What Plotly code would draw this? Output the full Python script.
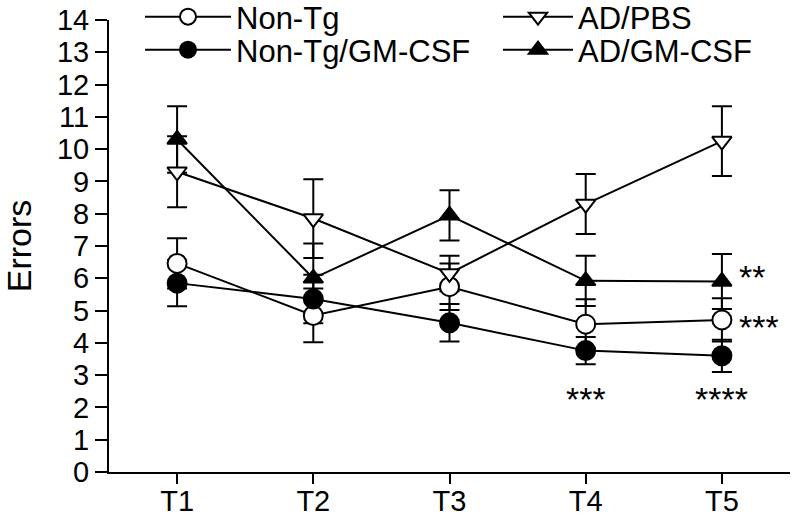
import plotly.graph_objects as go

categories = ["T1", "T2", "T3", "T4", "T5"]
x_pos = [0, 1, 2, 3, 4]

non_tg = [6.46, 4.85, 5.74, 4.58, 4.71]
non_tg_sem = [0.78, 0.83, 0.72, 0.77, 0.67]
non_tg_gm = [5.85, 5.36, 4.62, 3.76, 3.60]
non_tg_gm_sem = [0.72, 0.75, 0.58, 0.42, 0.50]
ad_pbs = [9.30, 7.85, 6.15, 8.30, 10.25]
ad_pbs_sem = [1.10, 1.22, 0.55, 0.93, 1.08]
ad_gm = [10.30, 6.00, 7.95, 5.92, 5.90]
ad_gm_sem = [1.03, 1.08, 0.78, 0.78, 0.85]

star_labels = ["**", "***", "***", "****"]
star_x = [4.11, 4.11, 3, 4]
star_y = [6.16, 4.61, 2.38, 2.38]
star_anchor = ["left", "left", "center", "center"]

FONT = "Liberation Sans, Arial, sans-serif"

series = [
    ("Non-Tg", non_tg, non_tg_sem, "circle", "white", "legend"),
    ("Non-Tg/GM-CSF", non_tg_gm, non_tg_gm_sem, "circle", "black", "legend2"),
    ("AD/PBS", ad_pbs, ad_pbs_sem, "triangle-down", "white", "legend3"),
    ("AD/GM-CSF", ad_gm, ad_gm_sem, "triangle-up", "black", "legend4"),
]

fig = go.Figure()

# error bars first (below all markers)
for name, vals, sem, sym, fill, lg in series:
    fig.add_trace(go.Scatter(
        x=x_pos, y=vals, mode="markers",
        marker=dict(size=1, color="rgba(0,0,0,0)"),
        error_y=dict(type="data", array=sem, visible=True, color="black",
                     thickness=2, width=10),
        showlegend=False, hoverinfo="skip",
    ))

for name, vals, sem, sym, fill, lg in series:
    size = 19 if sym == "circle" else 17
    fig.add_trace(go.Scatter(
        x=x_pos, y=vals, mode="lines+markers", name=name,
        line=dict(color="black", width=2),
        marker=dict(symbol=sym, size=size, color=fill,
                    line=dict(color="black", width=2)),
        legend=lg,
    ))

for t, xx, yy, anc in zip(star_labels, star_x, star_y, star_anchor):
    fig.add_annotation(x=xx, y=yy, text=t, showarrow=False,
                       xanchor=anc, yanchor="middle", yshift=-4,
                       font=dict(family=FONT, size=34, color="black"))

PH = 452.0
PW = 681.0

def leg(left_px, top_px, iw):
    return dict(x=(left_px - 109) / PW, y=1.0 - (top_px - 20) / PH,
                xanchor="left", yanchor="top",
                font=dict(size=31), bgcolor="rgba(0,0,0,0)",
                itemwidth=iw, borderwidth=0)

fig.update_layout(
    width=800, height=526,
    margin=dict(l=109, r=10, t=20, b=54, pad=0, autoexpand=False),
    paper_bgcolor="white", plot_bgcolor="white",
    font=dict(family=FONT, color="black", size=29),
    legend=leg(140, -10, 86),
    legend2=leg(140, 23, 86),
    legend3=leg(498, -10, 70),
    legend4=leg(498, 23, 70),
    xaxis=dict(range=[-0.5, 4.5], tickmode="array", tickvals=x_pos,
               ticktext=categories, showline=True, linecolor="black",
               linewidth=2, ticks="outside", ticklen=10, tickwidth=2,
               tickcolor="black", showgrid=False, zeroline=False,
               tickfont=dict(size=29), automargin=False,
               ticklabelstandoff=-8),
    yaxis=dict(range=[0, 14], dtick=1, showline=True, linecolor="black",
               linewidth=2, ticks="outside", ticklen=12, tickwidth=2,
               tickcolor="black", showgrid=False, zeroline=False,
               tickfont=dict(size=29), automargin=False,
               title=dict(text="Errors", font=dict(size=34), standoff=22)),
)

fig.write_html("out.html", config={"displayModeBar": False},
               post_script="document.body.style.margin='0';")
